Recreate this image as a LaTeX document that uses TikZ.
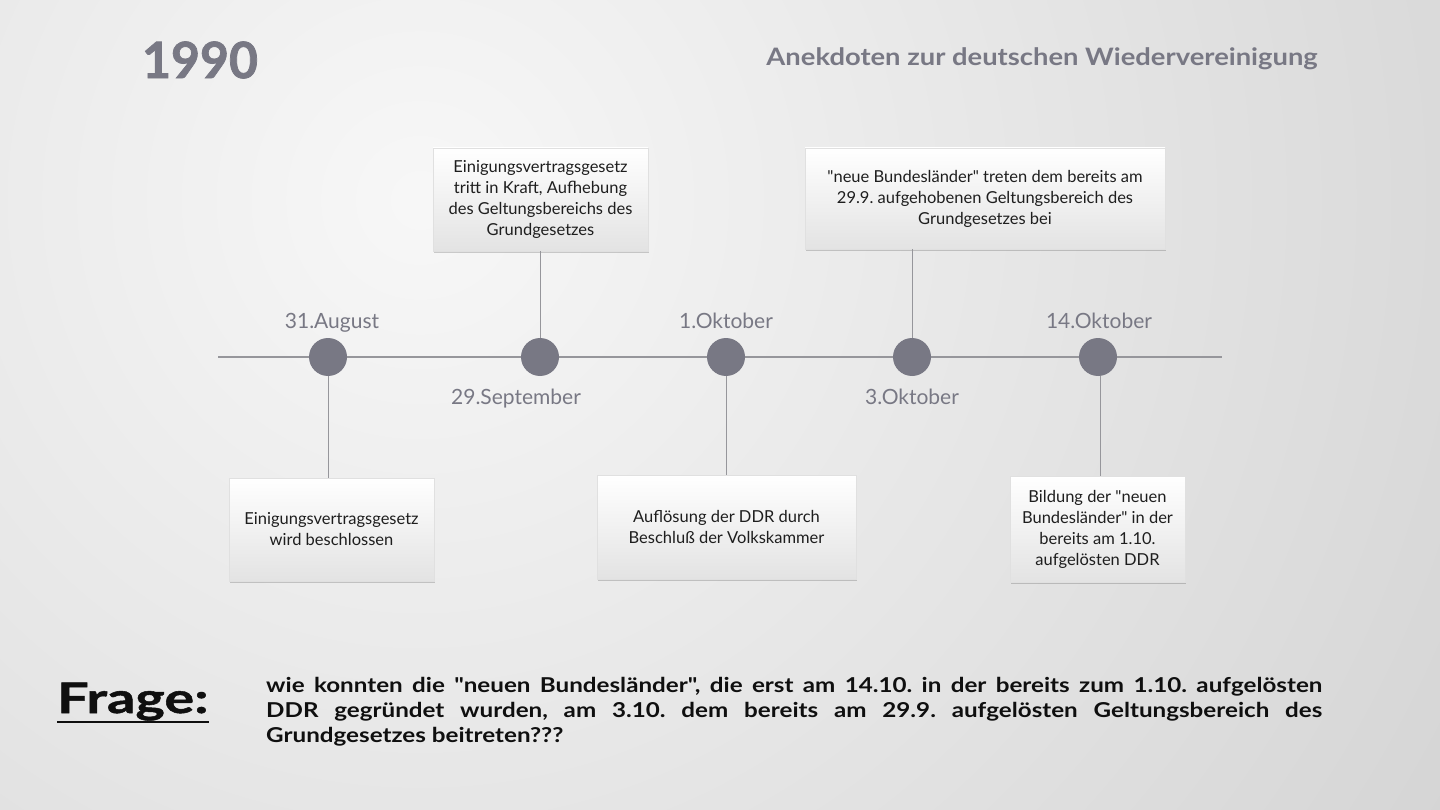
\documentclass[tikz,border=0pt]{standalone}
\usepackage{fontspec}
\setmainfont{Lato}[Ligatures=TeXOff]
\newfontfamily\widea{Lato}[FakeStretch=1.14, Ligatures=TeXOff]
\newfontfamily\wideb{Lato}[FakeStretch=1.18, Ligatures=TeXOff]
\newfontfamily\widec{Lato}[FakeStretch=1.33, FakeBold=1.2, Ligatures=TeXOff]
\newfontfamily\heavy{Lato}[FakeBold=1.5, Ligatures=TeXOff]
\usetikzlibrary{shadows}
\definecolor{tlgray}{RGB}{120,120,132}
\definecolor{linegray}{RGB}{150,150,155}
\definecolor{boxtext}{RGB}{30,30,30}
\definecolor{darktext}{RGB}{15,15,15}
\tikzset{
  dot/.style={circle, fill=tlgray, minimum size=38pt, inner sep=0pt},
  datelbl/.style={text=tlgray, font=\fontsize{21}{24}\selectfont, inner sep=0pt, anchor=base},
  evbox/.style={rectangle, draw=black!12, line width=0.6pt, top color=white, bottom color=black!11,
     text=boxtext, align=center, font=\fontsize{16.5}{21}\selectfont, inner sep=0pt,
     drop shadow={shadow xshift=0.8pt, shadow yshift=-2pt, opacity=0.18, fill=black}},
  tline/.style={draw=linegray, line width=1.2pt},
  conn/.style={draw=linegray, line width=1pt},
}
\begin{document}
\frenchspacing
\begin{tikzpicture}[x=1pt,y=-1pt]
\useasboundingbox (0,0) rectangle (1440,810);
\begin{scope}
\clip (0,0) rectangle (1440,810);
\shade[inner color=black!3, outer color=black!30] (420,200) circle[radius=2400];
\end{scope}

% titles
\node[text=tlgray, font=\heavy\bfseries\fontsize{50}{60}\selectfont, inner sep=0pt] (year) at (200,60) {1990};
\node[text=tlgray, font=\widea\bfseries\fontsize{24}{28}\selectfont, inner sep=0pt, anchor=east] (sub) at (1318,59) {Anekdoten zur deutschen Wiedervereinigung};

% timeline
\coordinate (tl) at (218,357);
\coordinate (tr) at (1222,357);
\draw[tline] (tl) -- (tr);

\node[dot] (d1) at (328,357) {};
\node[dot] (d2) at (540,357) {};
\node[dot] (d3) at (726,357) {};
\node[dot] (d4) at (912,357) {};
\node[dot] (d5) at (1098,357) {};

\node[datelbl] (l1) at (332,328) {31.August};
\node[datelbl] (l2) at (516,404) {29.September};
\node[datelbl] (l3) at (726,328) {1.Oktober};
\node[datelbl] (l4) at (912,404) {3.Oktober};
\node[datelbl] (l5) at (1099,328) {14.Oktober};

% boxes
\node[evbox, minimum width=215pt, minimum height=103pt] (b2) at (540.5,199.5)
  {Einigungsvertragsgesetz\\tritt in Kraft, Aufhebung\\des Geltungsbereichs des\\Grundgesetzes};
\node[evbox, minimum width=360pt, minimum height=101pt] (b4) at (985,198.5)
  {"neue Bundesländer" treten dem bereits am\\29.9. aufgehobenen Geltungsbereich des\\Grundgesetzes bei};
\node[evbox, minimum width=205pt, minimum height=103pt] (b1) at (331.5,529.5)
  {Einigungsvertragsgesetz\\wird beschlossen};
\node[evbox, minimum width=259pt, minimum height=104pt] (b3) at (726.5,527)
  {Auflösung der DDR durch\\Beschluß der Volkskammer};
\node[evbox, minimum width=175pt, minimum height=106pt] (b5) at (1097.5,529)
  {Bildung der "neuen\\Bundesländer" in der\\bereits am 1.10.\\aufgelösten DDR};

% connectors
\draw[conn] (d2) -- (d2 |- b2.south);
\draw[conn] (d4) -- (d4 |- b4.south);
\draw[conn] (d1) -- (d1 |- b1.north);
\draw[conn] (d3) -- (d3 |- b3.north);
\draw[conn] ([xshift=2pt]d5.south) -- ([xshift=2pt]d5 |- b5.north);

% question
\node[text=darktext, font=\widec\bfseries\fontsize{42}{46}\selectfont, inner sep=0pt, anchor=base west] (frage) at (57,713) {Frage:};
\draw[darktext, line width=2.5pt] ([yshift=-9pt]frage.base west) -- ([yshift=-9pt]frage.base east);

\node[text=darktext, font=\wideb\bfseries\fontsize{20.5}{25}\selectfont, inner sep=0pt, anchor=north west, align=left] (q) at (266,677)
  {\makebox[1056pt][s]{wie konnten die "neuen Bundesländer", die erst am 14.10. in der bereits zum 1.10. aufgelösten}\\
   \makebox[1056pt][s]{DDR gegründet wurden, am 3.10. dem bereits am 29.9. aufgelösten Geltungsbereich des}\\
   Grundgesetzes beitreten???};
\end{tikzpicture}
\end{document}
